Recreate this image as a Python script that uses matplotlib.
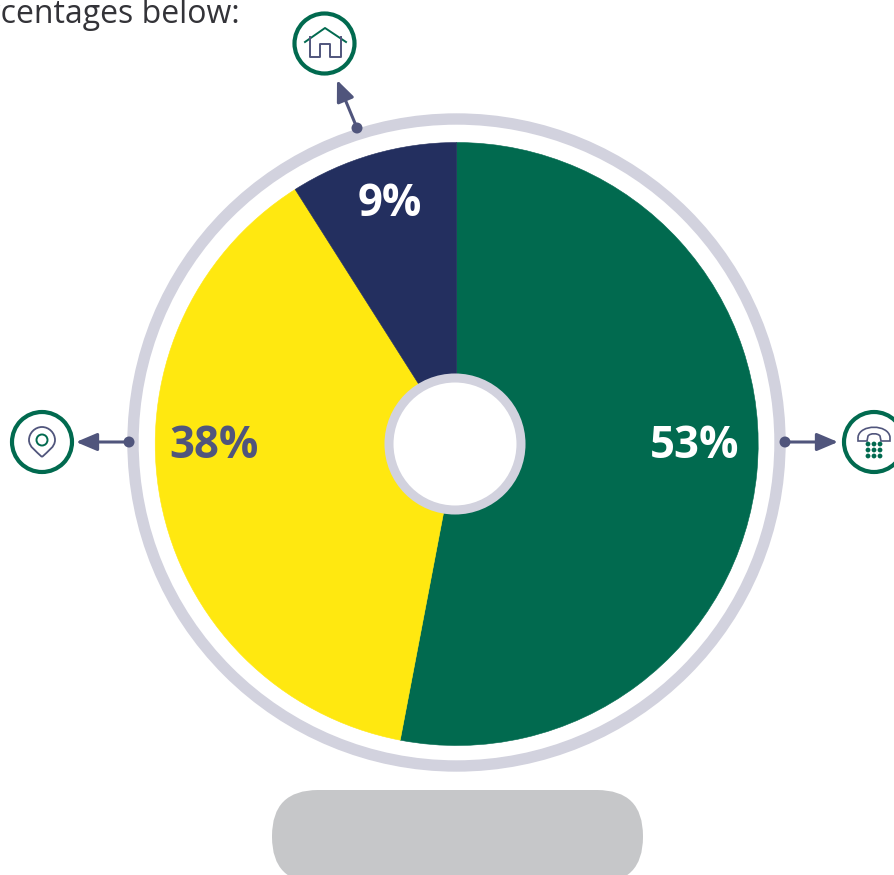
import matplotlib
matplotlib.use("Agg")
import matplotlib.pyplot as plt
from matplotlib.patches import Circle, FancyBboxPatch, PathPatch
from matplotlib.path import Path

# pie data
labels = ["53%", "38%", "9%"]
values = [53, 38, 9]
colors = ["#016a4f", "#ffe810", "#232f5f"]
label_colors = ["white", "#50557c", "white"]
caption = "percentages below:"

GREEN = "#016a4f"
SLATE = "#50557c"
RING = "#d2d2de"
H = 875


def py(y):
    # picture y (from the top) to axes y
    return H - y


fig = plt.figure(figsize=(8.94, 8.75), dpi=100)
ax = fig.add_axes([0, 0, 1, 1])

# pie itself
wedges, _ = ax.pie(values, colors=colors, startangle=90, counterclock=False,
                   center=(456.7, py(444)), radius=301.5, frame=False)
for w, c in zip(wedges, colors):
    # hides the pale seam between slices
    w.set_edgecolor(c)
    w.set_linewidth(0.4)
ax.set_xlim(0, 894)
ax.set_ylim(0, H)
ax.set_aspect("equal")
ax.axis("off")

# outer ring and centre hole
ax.add_patch(Circle((456.5, py(442.5)), 323.5, fc="none", ec=RING, lw=8.2))
ax.add_patch(Circle((455, py(444)), 66, fc="white", ec=RING, lw=6.5, zorder=3))

# percent labels
label_x = [694.5, 214, 390]
label_y = [446.5, 446.5, 204.5]
for t, c, x, y in zip(labels, label_colors, label_x, label_y):
    ax.text(x, py(y), t, color=c, family="Open Sans", weight="bold", fontsize=31.5,
            ha="center", va="center", zorder=4)

# cut off sentence top left
ax.text(240, py(23), caption, color="#333338", family="Open Sans", fontsize=23,
        ha="right", va="baseline")

# grey button, runs off the bottom
ax.add_patch(FancyBboxPatch((272, py(883)), 371, 93,
                            boxstyle="round,pad=0,rounding_size=46", fc="#c6c7c9", ec="none"))


def arrow(x0, y0, x1, y1):
    # dot on the ring, arrow pointing at the icon
    ax.annotate("", xy=(x1, py(y1)), xytext=(x0, py(y0)),
                arrowprops=dict(arrowstyle="-|>,head_length=0.85,head_width=0.36", color=SLATE,
                                lw=2.2, shrinkA=0, shrinkB=0, mutation_scale=15), zorder=5)
    ax.add_patch(Circle((x0, py(y0)), 5.5, fc=SLATE, ec="none", zorder=6))


arrow(357, 128, 337, 80)
arrow(129, 442, 76, 442)
arrow(785, 442, 838, 442)

# icon circles
for cx, cy in [(324.5, 43.5), (42, 442), (874, 442)]:
    ax.add_patch(Circle((cx, py(cy)), 30, fc="white", ec=GREEN, lw=3, zorder=5))

# house icon
ax.plot([305, 325, 346], [py(42), py(28), py(42)], color=GREEN, lw=1.4, zorder=6)
ax.plot([310, 310, 320, 320, 330, 330, 341, 341],
        [py(37), py(56.5), py(56.5), py(44), py(44), py(56.5), py(56.5), py(37)],
        color=SLATE, lw=1.4, zorder=6)

# pin icon
pin_verts = [(42, py(457)), (36, py(451)), (29, py(447)), (29, py(440)),
             (29, py(433)), (35, py(427)), (42, py(427)),
             (49, py(427)), (55, py(433)), (55, py(440)),
             (55, py(447)), (48, py(451)), (42, py(457))]
pin_codes = [Path.MOVETO] + [Path.CURVE4] * 12
ax.add_patch(PathPatch(Path(pin_verts, pin_codes), fc="none", ec=SLATE, lw=1.3, zorder=6))
ax.add_patch(Circle((42, py(440)), 5.5, fc="none", ec=GREEN, lw=1.4, zorder=6))

# phone icon
handset = [(858, py(437)), (860, py(424)), (888, py(424)), (890, py(437)),
           (890, py(441)), (881, py(441)), (880, py(436)),
           (878, py(433)), (870, py(433)), (868, py(436)),
           (867, py(441)), (858, py(441)), (858, py(437))]
phone_codes = [Path.MOVETO, Path.CURVE4, Path.CURVE4, Path.CURVE4,
               Path.LINETO, Path.LINETO, Path.LINETO,
               Path.CURVE4, Path.CURVE4, Path.CURVE4,
               Path.LINETO, Path.LINETO, Path.LINETO]
ax.add_patch(PathPatch(Path(handset, phone_codes), fc="none", ec=SLATE, lw=1.2, zorder=6))
for kx in [868, 874, 880]:
    for ky in [444, 450, 456]:
        ax.add_patch(Circle((kx, py(ky)), 2.4, fc=GREEN, ec="none", zorder=6))

fig.savefig("out.png", dpi=100, facecolor="white")
